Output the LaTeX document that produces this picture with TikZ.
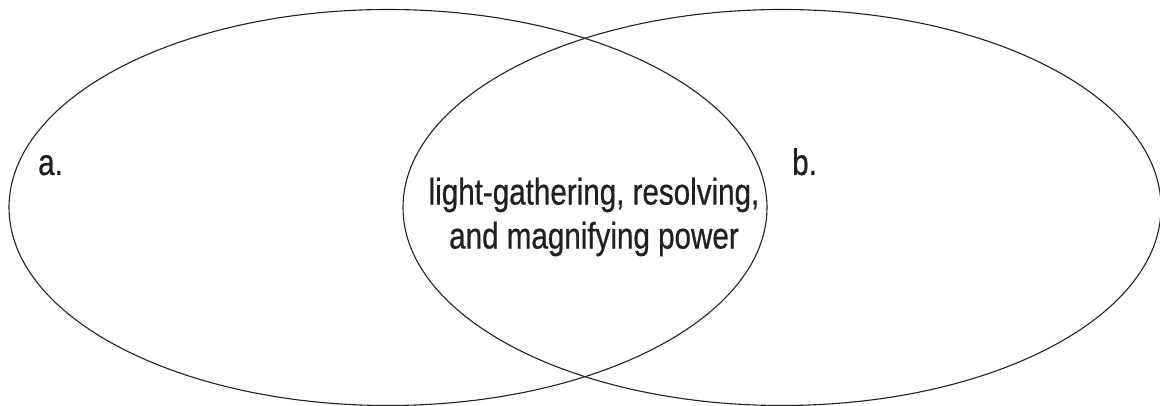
\documentclass[tikz,border=0pt]{standalone}
\usepackage{fontspec}
\setmainfont[FakeStretch=0.8,FakeBold=0.6]{Liberation Sans}
\definecolor{ink}{HTML}{231F20}
\begin{document}
\begin{tikzpicture}[x=1pt,y=1pt,
  vennset/.style={draw=ink,line width=1.1pt},
  label/.style={inner sep=0pt,font=\fontsize{37}{44}\selectfont,text=ink}]
\useasboundingbox (0,0) rectangle (1160,406);
\begin{scope}
\clip (0,0) rectangle (1160,406);
\draw[vennset] (388,198.5) ellipse [x radius=379, y radius=198];
\draw[vennset] (782,198.5) ellipse [x radius=379, y radius=198];
\end{scope}
\node[label,anchor=base west] (a) at (38,231) {a.};
\node[label,anchor=base west] (b) at (792,231) {b.};
\node[label,align=center,anchor=center] (common) at (594,189) {light-gathering, resolving,\\and magnifying power};
\end{tikzpicture}
\end{document}
